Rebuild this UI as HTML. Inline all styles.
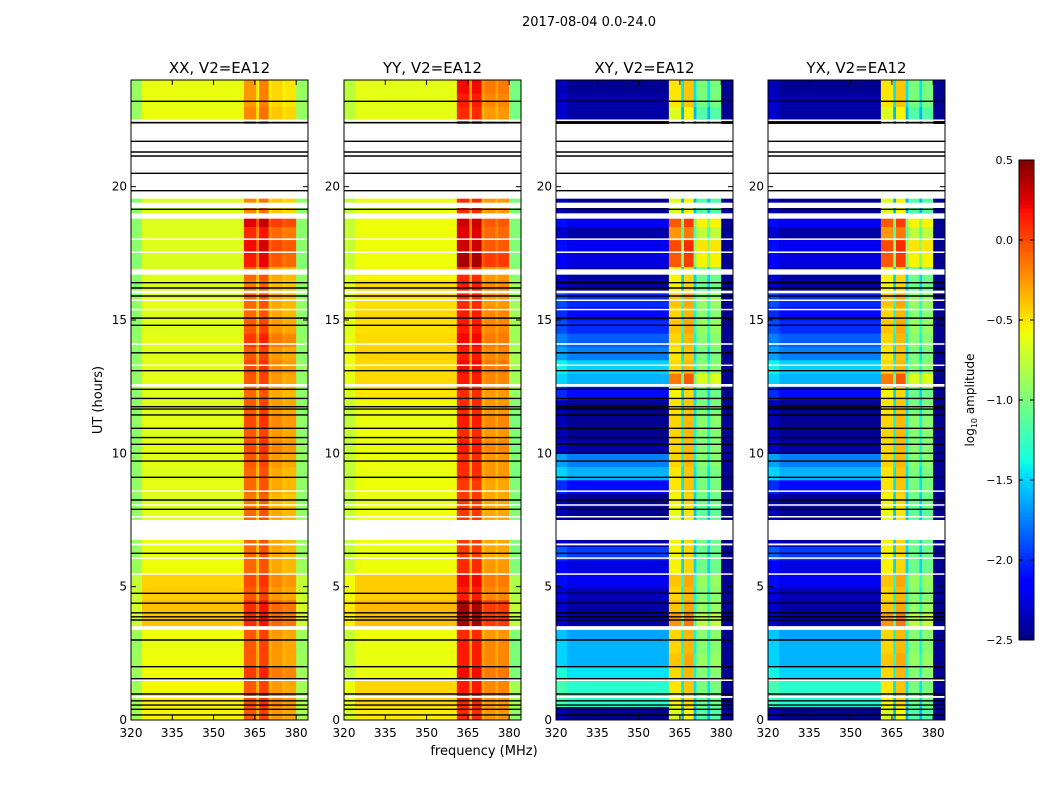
<!DOCTYPE html>
<html><head><meta charset="utf-8">
<style>
html,body{margin:0;padding:0;background:#fff;}
svg text{font-family:"DejaVu Sans","Liberation Sans",sans-serif;fill:#000;}
</style></head>
<body>
<svg id="fig" width="1050" height="800" viewBox="0 0 1050 800" xmlns="http://www.w3.org/2000/svg">
<rect width="1050" height="800" fill="#fff"/>
<text x="589" y="26" font-size="13" text-anchor="middle">2017-08-04 0.0-24.0</text>
<text x="102" y="400" font-size="13" text-anchor="middle" transform="rotate(-90 102 400)">UT (hours)</text>
<text x="484" y="755" font-size="13" text-anchor="middle">frequency (MHz)</text>
<g id="plots"></g>
<g id="cbar"></g>
</svg>
<script>
// ---- data (half-hour rows, index 0 = 0.0-0.5 h) ----
const xxLow = [-0.55,-0.53,-0.56,-0.58,-0.58,-0.6,-0.58,-0.4,-0.38,-0.42,-0.44,-0.58,-0.6,-0.6,-0.6,-0.62,-0.64,-0.62,-0.64,-0.62,-0.62,-0.64,-0.62,-0.64,-0.64,-0.62,-0.62,-0.64,-0.62,-0.64,-0.64,-0.62,-0.64,-0.64,-0.66,-0.64,-0.64,-0.64,-0.64,-0.64,-0.64,-0.64,-0.64,-0.64,-0.64,-0.6,-0.6,-0.6];
const xxBand = [-0.05,0.0,-0.05,0.05,-0.05,-0.05,-0.05,0.1,0.1,-0.05,0.0,-0.1,-0.1,-0.1,-0.1,-0.1,-0.15,-0.1,-0.1,-0.05,0.0,-0.05,0.0,-0.05,-0.1,-0.05,0.0,-0.05,0.05,-0.05,-0.1,-0.1,-0.15,-0.1,0.15,0.2,0.1,0.25,-0.2,-0.2,-0.2,-0.2,-0.2,-0.2,-0.2,-0.2,-0.25,-0.25];
const yyLow = [-0.52,-0.45,-0.45,-0.6,-0.6,-0.6,-0.58,-0.38,-0.36,-0.42,-0.42,-0.58,-0.6,-0.58,-0.58,-0.58,-0.6,-0.58,-0.6,-0.58,-0.6,-0.58,-0.6,-0.58,-0.5,-0.46,-0.46,-0.44,-0.46,-0.48,-0.46,-0.48,-0.46,-0.55,-0.58,-0.58,-0.58,-0.58,-0.6,-0.6,-0.6,-0.6,-0.6,-0.6,-0.6,-0.62,-0.62,-0.62];
const yyBand = [0.0,0.0,0.05,0.1,0.05,0.05,0.0,0.3,0.3,0.05,0.1,0.0,-0.05,-0.05,-0.05,-0.05,-0.05,-0.05,0.0,0.0,0.05,0.0,0.05,0.0,0.0,0.05,0.1,0.05,0.1,0.05,0.05,0.0,0.05,0.0,0.3,0.2,0.15,0.2,0.0,0.0,0.0,0.0,0.0,0.0,0.0,0.0,0.05,0.1];
const xyLow = [-2.45,-1.3,-1.3,-1.45,-1.6,-1.6,-1.65,-2.4,-2.4,-2.35,-2.2,-2.25,-1.95,-2.4,-2.4,-2.45,-2.45,-2.1,-1.6,-1.75,-2.4,-2.45,-2.45,-2.45,-2.1,-1.6,-1.5,-1.75,-1.85,-2.0,-2.1,-2.0,-2.4,-2.4,-2.25,-2.2,-2.4,-2.2,-2.45,-2.45,-2.45,-2.45,-2.45,-2.45,-2.45,-2.4,-2.4,-2.45];
const xyBand = [-0.7,-0.6,-0.55,-0.5,-0.45,-0.5,-0.5,-0.3,-0.45,-0.5,-0.45,-0.6,-0.6,-0.6,-0.6,-0.65,-0.6,-0.55,-0.55,-0.5,-0.5,-0.5,-0.5,-0.55,-0.6,-0.2,-0.5,-0.55,-0.5,-0.45,-0.5,-0.45,-0.6,-0.6,-0.1,-0.05,-0.3,-0.1,-0.7,-0.7,-0.7,-0.7,-0.7,-0.7,-0.7,-0.7,-0.55,-0.55];
const yxLow = [-2.45,-1.35,-1.3,-1.5,-1.6,-1.6,-1.65,-2.4,-2.4,-2.35,-2.2,-2.25,-1.95,-2.4,-2.4,-2.45,-2.45,-2.1,-1.6,-1.75,-2.4,-2.45,-2.45,-2.45,-2.1,-1.6,-1.5,-1.75,-1.85,-2.0,-2.1,-2.0,-2.4,-2.4,-2.25,-2.2,-2.4,-2.2,-2.45,-2.45,-2.45,-2.45,-2.45,-2.45,-2.45,-2.4,-2.4,-2.45];
const yxBand = [-0.7,-0.6,-0.55,-0.5,-0.45,-0.5,-0.5,-0.3,-0.45,-0.5,-0.45,-0.6,-0.6,-0.6,-0.6,-0.65,-0.6,-0.55,-0.55,-0.5,-0.5,-0.5,-0.5,-0.55,-0.6,-0.2,-0.5,-0.55,-0.5,-0.45,-0.5,-0.45,-0.6,-0.6,-0.1,-0.05,-0.3,-0.1,-0.7,-0.7,-0.7,-0.7,-0.7,-0.7,-0.7,-0.7,-0.55,-0.55];
const whiteFlags = [[6.75,7.5],[6.55,6.62],[6.05,6.1],[5.45,5.5],[3.38,3.52],[1.48,1.52],[0.83,0.9],[7.6,7.65],[8.05,8.09],[8.56,8.61],[12.5,12.6],[13.28,13.33],[14.07,14.13],[15.38,15.42],[15.73,15.77],[16.0,16.1],[16.7,16.9],[17.53,17.57],[18.02,18.06],[18.8,19.0],[19.2,19.4],[19.55,22.35],[22.48,22.52]];
const blackFlags = [23.2,22.4,21.7,21.3,21.15,20.5,19.85,19.15,16.4,16.2,15.9,15.07,14.8,13.77,13.1,12.4,12.06,11.75,11.66,11.44,10.94,10.59,10.34,10.0,9.71,9.1,8.25,7.9,6.25,4.75,4.38,4.02,3.87,3.75,3.0,2.0,1.55,0.975,0.72,0.56,0.4,0.19];
const freqTicks = [320,335,350,365,380];
const timeTicks = [0,5,10,15,20];
const cbTicks = [0.5,0.0,-0.5,-1.0,-1.5,-2.0,-2.5];
const panelTitles = ['XX, V2=EA12','YY, V2=EA12','XY, V2=EA12','YX, V2=EA12'];
const bandAdjXX = [0.0,0.08,-0.2,-0.25];
const bandAdjYY = [0.1,0.1,-0.25,-0.25];
const bandAdjXY = [0.05,0.15,-0.45,-0.45];

// ---- layout ----
const NS='http://www.w3.org/2000/svg';
const panelX=[131,344,556,768], PW=177, PY0=80, PY1=720;
const F0=320,F1=384.3,T0=0,T1=24,VMIN=-2.5,VMAX=0.5;
const segs=[[320,324,'edgeL',0],[324,361,'low',0],[361,365.5,'band',0],[365.5,366.5,'gap',0],[366.5,370,'band',1],[370,371,'gap',0],[371,375,'band',2],[375,376,'gap',0],[376,380,'band',3],[380,384.3,'edgeR',0]];
const JR=[[0,0],[0.35,0],[0.66,1],[0.89,1],[1,0.5]];
const JG=[[0,0],[0.125,0],[0.375,1],[0.64,1],[0.91,0],[1,0]];
const JB=[[0,0.5],[0.11,1],[0.34,1],[0.65,0],[1,0]];
function interp(p,t){for(let i=1;i<p.length;i++){if(t<=p[i][0]){const a=p[i-1],b=p[i];return a[1]+(b[1]-a[1])*(t-a[0])/(b[0]-a[0]);}}return p[p.length-1][1];}
function jet(v){let t=(v-VMIN)/(VMAX-VMIN);t=Math.max(0,Math.min(1,t));
 return `rgb(${Math.round(interp(JR,t)*255)},${Math.round(interp(JG,t)*255)},${Math.round(interp(JB,t)*255)})`;}
function mk(tag,attrs,parent){const e=document.createElementNS(NS,tag);for(const k in attrs)e.setAttribute(k,attrs[k]);parent.appendChild(e);return e;}
const plots=document.getElementById('plots');
const cfg=[
 {low:xxLow,band:xxBand,adj:bandAdjXX,gap:-0.3,eL:-0.3,eR:-0.3,cross:false},
 {low:yyLow,band:yyBand,adj:bandAdjYY,gap:-0.35,eL:-0.15,eR:-0.4,cross:false},
 {low:xyLow,band:xyBand,adj:bandAdjXY,gap:-0.9,eL:0.1,eR:-2.45,cross:true},
 {low:yxLow,band:yxBand,adj:bandAdjXY,gap:-0.9,eL:0.1,eR:-2.45,cross:true}];
cfg.forEach((p,pi)=>{
 const x0=panelX[pi];
 const xs=f=>x0+(f-F0)/(F1-F0)*PW;
 const ys=t=>PY1-(t-T0)/(T1-T0)*(PY1-PY0);
 const g=mk('g',{},plots);
 
 
 const hm=mk('g',{},g);
 
 
 const n=p.low.length;
 for(let i=0;i<n;i++){
  const t0=i*24/n,t1=(i+1)*24/n;
  segs.forEach(s=>{
   let v;
   if(s[2]==='low')v=p.low[i];
   else if(s[2]==='edgeL')v=p.low[i]+p.eL;
   else if(s[2]==='edgeR')v=p.cross?p.eR:p.low[i]+p.eR;
   else if(s[2]==='band')v=p.band[i]+p.adj[s[3]];
   else v=p.band[i]+p.gap;
   const r=mk('rect',{x:xs(s[0]).toFixed(2),y:ys(t1).toFixed(2),width:(xs(s[1])-xs(s[0])+0.3).toFixed(2),height:(ys(t0)-ys(t1)+0.3).toFixed(2),fill:jet(v)},hm);
   
   
  });
 }
 whiteFlags.forEach(w=>{
  const r=mk('rect',{x:x0,y:ys(w[1]),width:PW,height:Math.max(1.5,ys(w[0])-ys(w[1])),fill:'#fff'},g);
  
  
 });
 blackFlags.forEach(b=>{
  const l=mk('line',{x1:x0,x2:x0+PW,y1:ys(b),y2:ys(b),stroke:'#000','stroke-width':1.4},g);
  
  
 });
 const fr=mk('rect',{x:x0,y:PY0,width:PW,height:PY1-PY0,fill:'none',stroke:'#000','stroke-width':1},g);
 
 
 freqTicks.forEach(f=>{
  const x=xs(f);
  mk('line',{x1:x,x2:x,y1:PY1,y2:PY1-5,stroke:'#000'},g);
  mk('line',{x1:x,x2:x,y1:PY0,y2:PY0+5,stroke:'#000'},g);
  const tx=mk('text',{x:x,y:PY1+17,'font-size':12,'text-anchor':'middle'},g);
  tx.textContent=f;
  
  
 });
 timeTicks.forEach(t=>{
  const y=ys(t);
  mk('line',{x1:x0,x2:x0+5,y1:y,y2:y,stroke:'#000'},g);
  mk('line',{x1:x0+PW,x2:x0+PW-5,y1:y,y2:y,stroke:'#000'},g);
  const tx=mk('text',{x:x0-4,y:y+4,'font-size':12,'text-anchor':'end'},g);
  tx.textContent=t;
  
  
 });
 const tt=mk('text',{x:x0+PW/2,y:PY0-7,'font-size':15,'text-anchor':'middle'},g);
 tt.textContent=panelTitles[pi];
 
 
});
// colorbar
const cb=document.getElementById('cbar');


const CX=1019,CW=15,CY0=160,CY1=640;
const cy=v=>CY1-(v-VMIN)/(VMAX-VMIN)*(CY1-CY0);
for(let k=0;k<120;k++){
 const v0=VMIN+k*(VMAX-VMIN)/120,v1=VMIN+(k+1)*(VMAX-VMIN)/120;
 mk('rect',{x:CX,y:cy(v1),width:CW,height:cy(v0)-cy(v1)+0.5,fill:jet((v0+v1)/2)},cb);
}
mk('rect',{x:CX,y:CY0,width:CW,height:CY1-CY0,fill:'none',stroke:'#000'},cb);
cbTicks.forEach(v=>{
 const y=cy(v);
 mk('line',{x1:CX,x2:CX+4,y1:y,y2:y,stroke:'#000'},cb);
 mk('line',{x1:CX+CW,x2:CX+CW-4,y1:y,y2:y,stroke:'#000'},cb);
 const tx=mk('text',{x:1013,y:y+4,'font-size':11,'text-anchor':'end'},cb);
 tx.textContent=(v<0?'\u2212':'')+Math.abs(v).toFixed(1);
 
 
});
const cl=mk('text',{x:974,y:400,'font-size':12,'text-anchor':'middle',transform:'rotate(-90 974 400)'},cb);
cl.innerHTML='log<tspan font-size="8" dy="3">10</tspan><tspan dy="-3"> amplitude</tspan>';


</script>
</body></html>
